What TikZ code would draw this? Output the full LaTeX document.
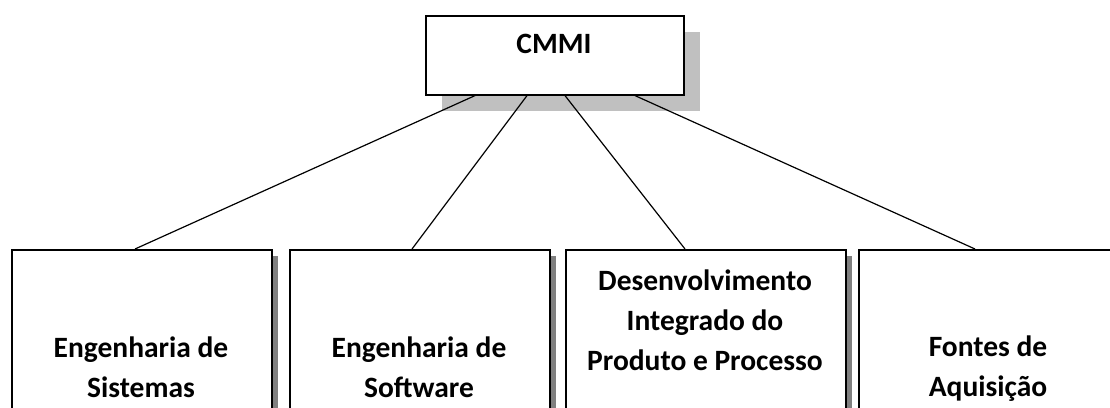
\documentclass[tikz,border=0pt]{standalone}
\usepackage{fontspec}
\setmainfont{Carlito}
\usetikzlibrary{shadows}
\begin{document}
\begin{tikzpicture}[x=1pt,y=-1pt,
  topbox/.style={draw=black, line width=1.6pt, fill=white, anchor=north west,
    minimum width=258pt, minimum height=79pt, inner sep=0pt,
    drop shadow={shadow xshift=16pt, shadow yshift=-16pt, opacity=1, fill={rgb,255:red,192;green,192;blue,192}}},
  areabox/.style={draw=black, line width=1.6pt, fill=white, anchor=north west,
    minimum height=200pt, inner sep=0pt,
    drop shadow={shadow xshift=6pt, shadow yshift=-6pt, opacity=1, fill={rgb,255:red,128;green,128;blue,128}}},
  lbl/.style={font=\fontsize{29.5}{40}\selectfont\bfseries, align=center, inner sep=0pt, anchor=base},
  link/.style={line width=1.2pt}]
\useasboundingbox (0,0) rectangle (1110,407);
\clip (0,0) rectangle (1110,407);
\node[topbox] (cmmi) at (425,15) {};
\node[lbl] (tcmmi) at (554,53) {CMMI};
\node[areabox, minimum width=260pt] (b1) at (11,249) {};
\node[areabox, minimum width=260pt] (b2) at (289,249) {};
\node[areabox, minimum width=280pt] (b3) at (565,249) {};
\node[areabox, minimum width=270pt] (b4) at (858,249) {};
\node[lbl] (t1) at (141,397) {Engenharia de\\Sistemas};
\node[lbl] (t2) at (419,397) {Engenharia de\\Software};
\node[lbl] (t3) at (705,370) {Desenvolvimento\\Integrado do\\Produto e Processo};
\node[lbl] (t4) at (988,396) {Fontes de\\Aquisição};
\draw[link] ([xshift=50pt]cmmi.south west) -- ([xshift=124pt]b1.north west);
\draw[link] ([xshift=102pt]cmmi.south west) -- ([xshift=123pt]b2.north west);
\draw[link] ([xshift=140pt]cmmi.south west) -- ([xshift=120pt]b3.north west);
\draw[link] ([xshift=210pt]cmmi.south west) -- ([xshift=117pt]b4.north west);
\end{tikzpicture}
\end{document}
